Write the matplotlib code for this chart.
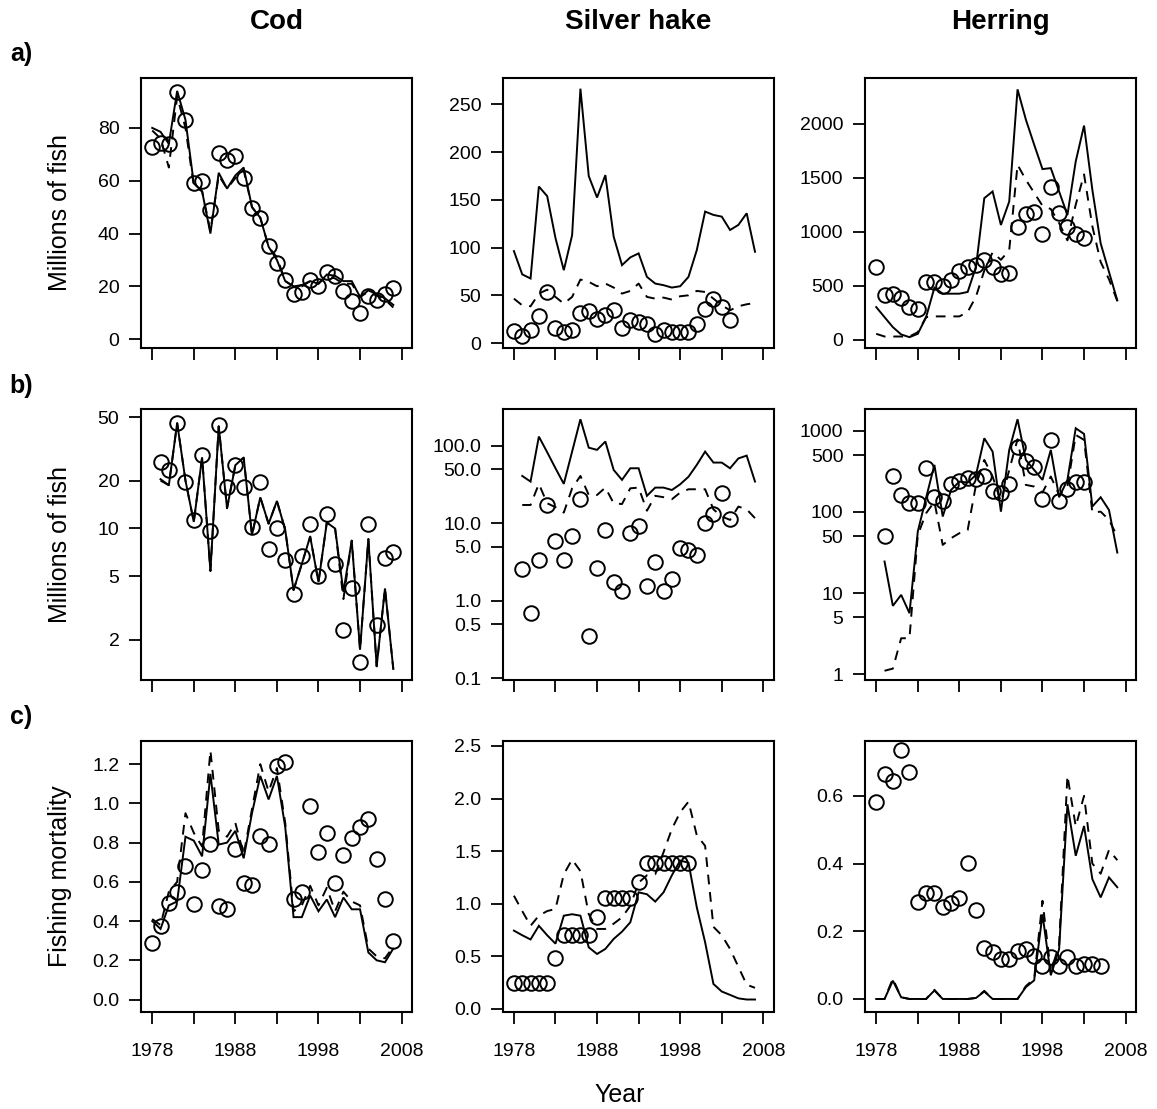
import numpy as np
import matplotlib
matplotlib.use("Agg")
import matplotlib.pyplot as plt
from matplotlib.ticker import FixedLocator, NullFormatter

plt.rcParams['font.family'] = ['Liberation Sans', 'DejaVu Sans']

# ---- data -------------------------------------------------------------
# a) abundance (millions), b) recruits (millions, log scale), c) fishing mortality
# obs = survey/assessment points, fit = solid model line, alt = dashed model line

cod_abund_obs = [72.8, 74.3, 74.0, 93.7, 82.8, 59.0, 59.8, 48.8, 70.6, 68.0, 69.2, 61.2, 49.7, 46.0, 35.2,
                 29.0, 22.3, 17.3, 17.9, 22.3, 20.0, 25.5, 23.8, 18.3, 14.5, 10.1, 16.4, 15.0, 17.3, 19.5]
cod_abund_fit = [80, 78.5, 74, 94, 83, 59, 56, 40, 63, 57, 62, 65, 50, 46, 35,
                 30, 22, 20, 20.5, 22, 21, 24.5, 24, 22, 22, 16, 18.5, 17, 15.5, 13]
cod_abund_alt = [79, 76, 65, 92, 80, 58, 56, 41, 62, 57, 61, 64, 50, 46, 35,
                 31, 22, 20, 20, 22, 21, 24, 23, 21, 21, 16, 18, 16.5, 15, 12]

cod_rec_obs = [26, 23.4, 46.3, 19.6, 11.3, 29, 9.6, 45, 18.2, 25.1, 18.2, 10.2, 19.6, 7.4, 10,
               6.3, 3.9, 6.7, 10.7, 5.0, 12.3, 6.0, 2.31, 4.2, 1.44, 10.7, 2.48, 6.5, 7.1]
cod_rec_fit = [20.4, 18.7, 46, 20, 11, 28, 5.4, 44, 13.4, 25, 27.9, 9.1, 15.7, 10.7, 14.9,
               9.8, 4.1, 6.0, 8.9, 4.6, 10.9, 10, 4.0, 8.4, 1.73, 8.6, 1.36, 4.2, 1.31]
cod_rec_alt = [20.0, 18.7, 46, 20, 11, 28, 5.4, 44, 13.4, 25, 27.9, 9.1, 15.7, 10.7, 14.9,
               9.8, 4.1, 6.0, 8.9, 4.6, 10.9, 10, 3.6, 8.4, 1.73, 8.6, 1.36, 4.2, 1.31]

cod_f_obs = [0.29, 0.376, 0.49, 0.55, 0.68, 0.486, 0.658, 0.795, 0.477, 0.464, 0.765, 0.592, 0.582, 0.832, 0.795,
             1.19, 1.21, 0.511, 0.55, 0.985, 0.753, 0.85, 0.592, 0.736, 0.824, 0.88, 0.92, 0.717, 0.514, 0.30]
cod_f_fit = [0.40, 0.36, 0.48, 0.50, 0.83, 0.81, 0.73, 1.15, 0.79, 0.80, 0.86, 0.72, 0.95, 1.14, 1.02,
             1.14, 0.88, 0.42, 0.42, 0.53, 0.45, 0.51, 0.42, 0.52, 0.46, 0.46, 0.24, 0.20, 0.19, 0.26]
cod_f_alt = [0.41, 0.38, 0.55, 0.60, 0.95, 0.85, 0.78, 1.27, 0.86, 0.83, 0.90, 0.74, 0.97, 1.20, 1.06,
             1.18, 0.90, 0.45, 0.48, 0.58, 0.48, 0.57, 0.45, 0.55, 0.50, 0.48, 0.26, 0.22, 0.21, 0.27]

hake_abund_obs = [12.3, 7.7, 14, 28, 53.6, 16.1, 11.6, 13.3, 31.6, 33.7, 25.6, 29.8, 34.4, 16.1,
                  24.5, 22.1, 20.3, 9.1, 14, 11.6, 11.6, 11.6, 20.3, 36, 46.6, 37.9, 23.8]
hake_abund_fit = [96.4, 72, 67.7, 164, 154, 110, 76.4, 113, 266.5, 175, 152.5, 176, 111.5, 81.7, 89.8,
                  94, 69.4, 62.4, 60.7, 58.2, 59.6, 69.4, 97.5, 137.8, 134.3, 132.5, 118.5, 123.8, 136, 95.7]
hake_abund_alt = [46.6, 39.6, 38.6, 51.9, 56, 48.4, 41.4, 48.4, 66.6, 64.2, 59.6, 62.4, 58.2, 51.9, 54.7,
                  62.4, 48.4, 46.6, 47.7, 45.6, 49.1, 50.1, 54.7, 53.6, 46.6, 39.6, 34.4, 38.6, 40.7, 42]

hake_rec_obs = [2.57, 0.70, 3.39, 17.3, 6.0, 3.39, 6.8, 20.7, 0.355, 2.7, 8.3, 1.73, 1.33,
                7.5, 9.3, 1.54, 3.2, 1.33, 1.93, 4.8, 4.57, 3.86, 10.1, 13.3, 24.5, 11.3]
hake_rec_fit = [41, 34.7, 132, 83, 51.5, 32.4, 84.5, 221, 95, 89, 114, 49, 36.5, 51.5, 51.5,
                22.7, 29, 29, 27, 32, 40, 57, 84.5, 61, 61, 51.5, 69, 75, 34.7]
hake_rec_alt = [17.3, 17.3, 32.4, 18.2, 16.2, 13.8, 28.4, 41, 23.3, 23.3, 29, 18.2, 17.8, 28.4, 29,
                14.6, 22.7, 21.8, 20.5, 25, 27.6, 27.6, 27.6, 15.2, 12.3, 11.1, 16.5, 15.2, 11.7]

hake_f_obs = [0.25, 0.25, 0.25, 0.25, 0.25, 0.484, 0.70, 0.70, 0.70, 0.70, 0.87,
              1.05, 1.05, 1.05, 1.05, 1.21, 1.39, 1.39, 1.39, 1.39, 1.39, 1.39]
hake_f_fit = [0.744, 0.70, 0.66, 0.79, 0.70, 0.62, 0.886, 0.90, 0.886, 0.585, 0.522, 0.57, 0.665, 0.734, 0.823,
              1.108, 1.09, 1.02, 1.108, 1.27, 1.41, 1.39, 0.965, 0.633, 0.237, 0.165, 0.133, 0.10, 0.089, 0.089]
hake_f_alt = [1.076, 0.93, 0.79, 0.886, 0.93, 0.95, 1.28, 1.42, 1.31, 0.90, 0.76, 0.76, 0.81, 0.87, 0.98,
              1.20, 1.27, 1.28, 1.49, 1.71, 1.87, 1.97, 1.65, 1.55, 0.78, 0.70, 0.57, 0.40, 0.23, 0.20]

herring_abund_obs = [675, 412, 427, 390, 303, 288, 536, 536, 495, 551, 638, 675, 690,
                     737, 675, 607, 622, 1046, 1164, 1186, 975, 1418, 1170, 1046, 978, 938]
herring_abund_fit = [303, 210, 118, 50, 25, 56, 210, 483, 427, 427, 427, 443, 675, 1310, 1372,
                     1062, 1279, 2316, 2037, 1805, 1579, 1588, 1372, 1155, 1650, 1981, 1387, 892, 628, 365]
herring_abund_alt = [56, 31, 31, 31, 31, 71, 210, 217, 217, 217, 217, 257, 400, 640, 810,
                     740, 830, 1619, 1480, 1360, 1240, 1210, 1080, 920, 1250, 1530, 1050, 720, 560, 360]

herring_rec_obs = [50, 279, 163, 128, 128, 347, 152, 138, 220, 244, 261, 254, 279,
                   182, 170, 220, 629, 427, 363, 144, 775, 138, 193, 237, 237]
herring_rec_fit = [24.5, 6.95, 9.5, 5.65, 57.4, 150, 381, 88, 187, 237, 231, 287, 812, 556, 101,
                   583, 1393, 439, 330, 249, 583, 152, 249, 1079, 918, 117, 152, 106, 31.6]
herring_rec_alt = [1.1, 1.17, 2.77, 2.77, 52, 96.6, 134, 39.3, 47.5, 54.7, 60, 216, 439, 274, 134,
                   330, 789, 216, 206, 174, 274, 163, 206, 893, 775, 98.6, 101, 80, 50]

herring_f_obs = [0.583, 0.664, 0.644, 0.735, 0.669, 0.285, 0.313, 0.313, 0.273, 0.283, 0.297, 0.403, 0.263, 0.150,
                 0.140, 0.118, 0.118, 0.143, 0.147, 0.128, 0.098, 0.123, 0.098, 0.123, 0.098, 0.103, 0.103, 0.098]
herring_f_fit = [0, 0, 0.054, 0.005, 0, 0, 0, 0.025, 0, 0, 0, 0, 0.003, 0.022, 0,
                 0, 0, 0, 0.035, 0.055, 0.25, 0.07, 0.147, 0.575, 0.423, 0.511, 0.354, 0.30, 0.359, 0.33]
herring_f_alt = [0, 0, 0.06, 0.005, 0, 0, 0, 0.027, 0, 0, 0, 0, 0.003, 0.024, 0,
                 0, 0, 0, 0.038, 0.06, 0.29, 0.08, 0.16, 0.66, 0.51, 0.60, 0.40, 0.37, 0.44, 0.41]

species = ["Cod", "Silver hake", "Herring"]
row_tags = ["a)", "b)", "c)"]
row_ylabels = ["Millions of fish", "Millions of fish", "Fishing mortality"]
year_ticks = [1978, 1983, 1988, 1993, 1998, 2003, 2008]
year_labels = ["1978", "", "1988", "", "1998", "", "2008"]

# (obs, obs first year, fit, alt, lines first year, log?, ylim, yticks, ytick labels)
panels = [
    [(cod_abund_obs, 1978, cod_abund_fit, cod_abund_alt, 1978, False, (-3.4, 99), [0, 20, 40, 60, 80], None),
     (hake_abund_obs, 1978, hake_abund_fit, hake_abund_alt, 1978, False, (-5.3, 278), [0, 50, 100, 150, 200, 250], None),
     (herring_abund_obs, 1978, herring_abund_fit, herring_abund_alt, 1978, False, (-77, 2424),
      [0, 500, 1000, 1500, 2000], None)],
    [(cod_rec_obs, 1979, cod_rec_fit, cod_rec_alt, 1979, True, (1.12, 56.1), [2, 5, 10, 20, 50], None),
     (hake_rec_obs, 1979, hake_rec_fit, hake_rec_alt, 1979, True, (0.096, 297),
      [0.1, 0.5, 1, 5, 10, 50, 100], ["0.1", "0.5", "1.0", "5.0", "10.0", "50.0", "100.0"]),
     (herring_rec_obs, 1979, herring_rec_fit, herring_rec_alt, 1979, True, (0.851, 1849),
      [1, 5, 10, 50, 100, 500, 1000], None)],
    [(cod_f_obs, 1978, cod_f_fit, cod_f_alt, 1978, False, (-0.061, 1.318),
      [0.0, 0.2, 0.4, 0.6, 0.8, 1.0, 1.2], None),
     (hake_f_obs, 1978, hake_f_fit, hake_f_alt, 1978, False, (-0.025, 2.547),
      [0.0, 0.5, 1.0, 1.5, 2.0, 2.5], None),
     (herring_f_obs, 1978, herring_f_fit, herring_f_alt, 1978, False, (-0.037, 0.762),
      [0.0, 0.2, 0.4, 0.6], None)],
]

W, H = 1157, 1109
fig = plt.figure(figsize=(W / 100, H / 100), dpi=100)

col_left = [141, 502.7, 865]
row_top = [77.7, 409.3, 741]
box_w, box_h = 271, 270.5

for r in range(3):
    for c in range(3):
        obs, y0_obs, fit, alt, y0_line, logy, ylim, yticks, ylabs = panels[r][c]
        ax = fig.add_axes([col_left[c] / W, 1 - (row_top[r] + box_h) / H, box_w / W, box_h / H])
        yrs_obs = np.arange(y0_obs, y0_obs + len(obs))
        yrs_line = np.arange(y0_line, y0_line + len(fit))
        ax.plot(yrs_line, fit, color="black", lw=1.4, solid_joinstyle="miter")
        ax.plot(yrs_line, alt, color="black", lw=1.4, linestyle=(0, (5, 4)))
        ax.plot(yrs_obs, obs, linestyle="none", marker="o", markersize=10.5,
                markerfacecolor="none", markeredgecolor="black", markeredgewidth=1.4)
        if logy:
            ax.set_yscale("log")
        ax.set_ylim(*ylim)
        ax.set_xlim(1976.65, 2009.25)
        ax.yaxis.set_major_locator(FixedLocator(yticks))
        ax.yaxis.set_minor_formatter(NullFormatter())
        ax.yaxis.set_minor_locator(FixedLocator([]))
        if ylabs is None:
            ylabs = [("%g" % t) if not isinstance(t, float) or r != 2 else "%.1f" % t for t in yticks]
        ax.set_yticklabels(ylabs)
        ax.set_xticks(year_ticks)
        ax.set_xticklabels(year_labels if r == 2 else [""] * len(year_ticks))
        ax.tick_params(axis="both", direction="out", length=8.5, width=1.3, labelsize=14)
        ax.tick_params(axis="y", pad=7)
        ax.tick_params(axis="x", pad=14)
        for sp in ax.spines.values():
            sp.set_linewidth(1.5)

# column titles, row tags, axis labels
for c in range(3):
    fig.text((col_left[c] + box_w / 2) / W, 1 - 22 / H, species[c], ha="center", va="center",
             fontsize=20, fontweight="bold")
for r in range(3):
    fig.text(21 / W, 1 - (54 + 331.6 * r) / H, row_tags[r], ha="center", va="center",
             fontsize=18, fontweight="bold")
    fig.text(60 / W, 1 - (row_top[r] + box_h / 2) / H, row_ylabels[r], ha="center", va="center",
             rotation=90, fontsize=18)
fig.text(620 / W, 1 - 1095 / H, "Year", ha="center", va="center", fontsize=18)

fig.savefig("out.png", dpi=100)
